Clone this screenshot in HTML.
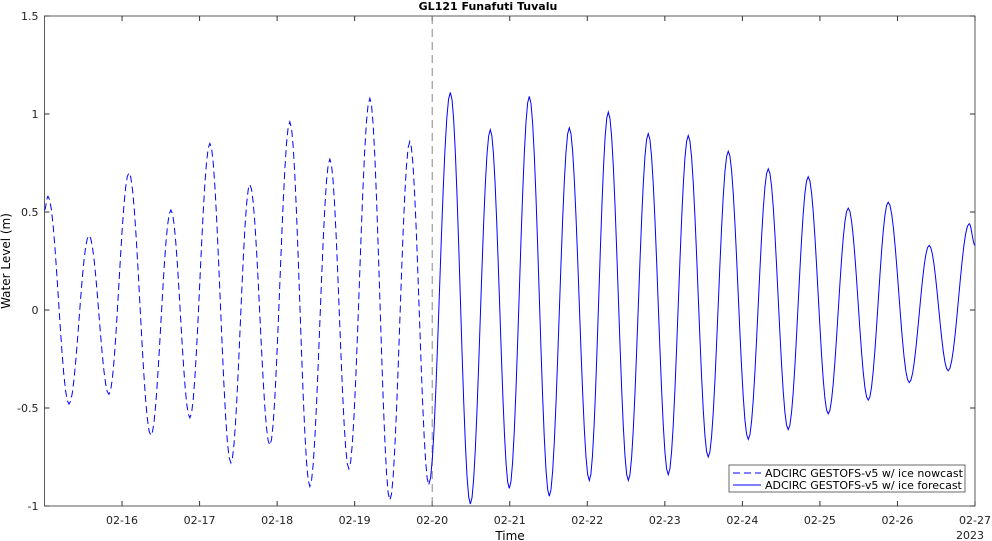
<!DOCTYPE html>
<html><head><meta charset="utf-8"><style>
html,body{margin:0;padding:0;background:#fff;}
svg{display:block;font-family:"DejaVu Sans","Liberation Sans",sans-serif;}
</style></head><body>
<svg id="chart" width="992" height="541">
<rect x="0" y="0" width="992" height="541" fill="#fff"/>
<text x="488" y="10" text-anchor="middle" font-weight="bold" font-size="11">GL121 Funafuti Tuvalu</text>
<g id="axes"></g>
<g id="series"></g>
<text x="510" y="540" text-anchor="middle" font-size="12">Time</text>
<text transform="translate(10,261) rotate(-90)" text-anchor="middle" font-size="12">Water Level (m)</text>
<g>
<rect x="729" y="465" width="236" height="27" fill="#fff" stroke="#444" stroke-width="0.8"/>
<line x1="733" y1="473" x2="761" y2="473" stroke="#00f" stroke-dasharray="7,4"/>
<text x="765" y="477" font-size="11">ADCIRC GESTOFS-v5 w/ ice nowcast</text>
<line x1="733" y1="485" x2="761" y2="485" stroke="#00f"/>
<text x="765" y="489" font-size="11">ADCIRC GESTOFS-v5 w/ ice forecast</text>
</g>
</svg>
<script>
// days since 02-15 and values (m) at turning points
const nowcastDays=[0,0.045,0.316,0.574,0.831,1.089,1.372,1.630,1.875,2.133,2.403,2.648,2.906,3.164,3.422,3.680,3.925,4.196,4.454,4.711,4.956];
const nowcastVals=[0.51,0.58,-0.48,0.38,-0.43,0.70,-0.64,0.51,-0.55,0.85,-0.78,0.64,-0.69,0.96,-0.90,0.77,-0.81,1.08,-0.97,0.86,-0.89];
const forecastDays=[4.956,5.234,5.492,5.749,5.994,6.252,6.510,6.768,7.026,7.271,7.529,7.786,8.044,8.302,8.560,8.818,9.076,9.334,9.591,9.849,10.107,10.365,10.623,10.881,11.152,11.409,11.654,11.925,12.0];
const forecastVals=[-0.89,1.11,-0.99,0.92,-0.91,1.09,-0.95,0.93,-0.87,1.01,-0.87,0.90,-0.84,0.89,-0.75,0.81,-0.66,0.72,-0.61,0.68,-0.53,0.52,-0.46,0.55,-0.37,0.33,-0.31,0.44,0.33];
const xTickLabels=['02-16','02-17','02-18','02-19','02-20','02-21','02-22','02-23','02-24','02-25','02-26','02-27'];
const xTickDays=[1,2,3,4,5,6,7,8,9,10,11,12];
const yTicks=[-1,-0.5,0,0.5,1,1.5];
const yTickLabels=['-1','-0.5','0','0.5','1','1.5'];

const L=44.5,R=975,T=16,B=506;
const xS=d=>L+(R-L)*d/12;
const yS=v=>B-(B-T)*(v+1)/2.5;
const NS='http://www.w3.org/2000/svg';
const axes=document.getElementById('axes'),ser=document.getElementById('series');
function mk(tag,attrs,parent){const e=document.createElementNS(NS,tag);for(const k in attrs)e.setAttribute(k,attrs[k]);parent.appendChild(e);return e;}

const frame=mk('rect',{x:L,y:T,width:R-L,height:B-T,fill:'none',stroke:'#333','stroke-width':0.8},axes);


xTickDays.forEach((d,i)=>{
  const x=xS(d);
  const t=mk('line',{x1:x,y1:B,x2:x,y2:B-5,stroke:'#333'},axes);
  
  
  mk('line',{x1:x,y1:T,x2:x,y2:T+5,stroke:'#333'},axes);
  const tx=mk('text',{x:x,y:524,'text-anchor':'middle','font-size':11,fill:'#222'},axes);
  tx.textContent=xTickLabels[i];
  
  
});
const yr=mk('text',{x:R-5,y:539,'text-anchor':'middle','font-size':11,fill:'#222'},axes);
yr.textContent='2023';


yTicks.forEach((v,i)=>{
  const y=yS(v);
  const t=mk('line',{x1:L,y1:y,x2:L+5,y2:y,stroke:'#333'},axes);
  
  
  mk('line',{x1:R,y1:y,x2:R-5,y2:y,stroke:'#333'},axes);
  const tx=mk('text',{x:L-6,y:y+4,'text-anchor':'end','font-size':11,fill:'#222'},axes);
  tx.textContent=yTickLabels[i];
  
  
});
const vl=mk('line',{x1:xS(5),y1:T,x2:xS(5),y2:B,stroke:'#888','stroke-dasharray':'8,5'},axes);



function curve(days,vals){
  let d='M'+xS(days[0]).toFixed(2)+','+yS(vals[0]).toFixed(2);
  for(let i=0;i<days.length-1;i++){
    for(let k=1;k<=12;k++){
      const f=k/12,s=(1-Math.cos(Math.PI*f))/2;
      const t=days[i]+(days[i+1]-days[i])*f,v=vals[i]+(vals[i+1]-vals[i])*s;
      d+='L'+xS(t).toFixed(2)+','+yS(v).toFixed(2);
    }
  }
  return d;
}
const p1=mk('path',{d:curve(nowcastDays,nowcastVals),fill:'none',stroke:'#00f','stroke-width':1,'stroke-dasharray':'7,4'},ser);


const p2=mk('path',{d:curve(forecastDays,forecastVals),fill:'none',stroke:'#00f','stroke-width':1},ser);


</script>
</body></html>
